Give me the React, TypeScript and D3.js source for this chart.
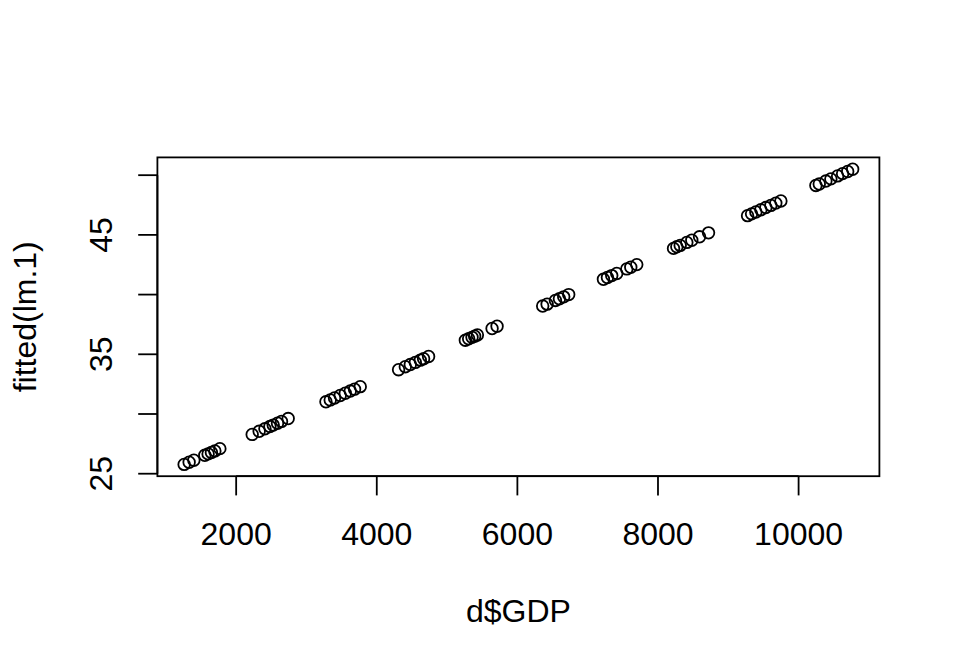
import React from "react";
import * as d3 from "d3";

const gdp: number[] = [
  1260, 1331, 1398, 1554, 1601, 1648, 1697, 1768,
  2228, 2327, 2409, 2480, 2527, 2588, 2645, 2740,
  3277, 3338, 3399, 3480, 3552, 3623, 3684, 3765,
  4310, 4406, 4477, 4548, 4619, 4666, 4737,
  5260, 5307, 5355, 5392, 5431, 5640, 5711,
  6360, 6423, 6541, 6598, 6659, 6730,
  7224, 7281, 7342, 7413, 7556, 7613, 7698,
  8221, 8268, 8316, 8410, 8481, 8591, 8719,
  9274, 9331, 9392, 9463, 9534, 9605, 9676, 9748,
  10246, 10294, 10388, 10459, 10555, 10626, 10698, 10769,
];

const fitted: number[] = [
  25.78, 25.96, 26.13, 26.54, 26.66, 26.78, 26.91, 27.1,
  28.29, 28.55, 28.76, 28.95, 29.07, 29.23, 29.38, 29.62,
  31.02, 31.18, 31.34, 31.55, 31.74, 31.92, 32.08, 32.29,
  33.71, 33.96, 34.14, 34.32, 34.51, 34.63, 34.82,
  36.18, 36.3, 36.42, 36.52, 36.62, 37.16, 37.35,
  39.04, 39.2, 39.51, 39.65, 39.81, 40.0,
  41.28, 41.43, 41.59, 41.77, 42.15, 42.29, 42.51,
  43.87, 44.0, 44.12, 44.37, 44.55, 44.84, 45.17,
  46.61, 46.76, 46.92, 47.1, 47.29, 47.47, 47.66, 47.84,
  49.14, 49.26, 49.51, 49.69, 49.94, 50.13, 50.31, 50.5,
];

const xTicks: number[] = [2000, 4000, 6000, 8000, 10000];
const yTicks: number[] = [25, 30, 35, 40, 45, 50];
const yTickLabels: string[] = ["25", "", "35", "", "45", ""];
const xTitle = "d$GDP";
const yTitle = "fitted(lm.1)";

const W = 960;
const H = 672;
const left = 157.4;
const right = 879.4;
const top = 157.4;
const bottom = 476.2;

export default function App() {
  const pad = (a: number, b: number): [number, number] => {
    const d = b - a;
    return [a - 0.04 * d, b + 0.04 * d];
  };
  const xs = d3.scaleLinear().domain(pad(d3.min(gdp)!, d3.max(gdp)!)).range([left, right]);
  const ys = d3.scaleLinear().domain(pad(d3.min(fitted)!, d3.max(fitted)!)).range([bottom, top]);
  const font = "'Liberation Sans', Arial, sans-serif";
  const sw = 1.8;
  const tick = 19.2;
  return (
    <svg width={W} height={H} style={{ position: "absolute", left: 0, top: 0, background: "#fff" }}>
      <rect x={0} y={0} width={W} height={H} fill="#fff" />
      <rect x={left} y={top} width={right - left} height={bottom - top} fill="none" stroke="#000" strokeWidth={sw} />
      {/* x axis */}
      <line x1={xs(xTicks[0])} x2={xs(xTicks[xTicks.length - 1])} y1={bottom} y2={bottom} stroke="#000" strokeWidth={sw} />
      {xTicks.map((t) => (
        <g key={t}>
          <line x1={xs(t)} x2={xs(t)} y1={bottom} y2={bottom + tick} stroke="#000" strokeWidth={sw} />
          <text x={xs(t)} y={545} textAnchor="middle" fontFamily={font} fontSize={32}>
            {String(t)}
          </text>
        </g>
      ))}
      {/* y axis */}
      <line x1={left} x2={left} y1={ys(yTicks[0])} y2={ys(yTicks[yTicks.length - 1])} stroke="#000" strokeWidth={sw} />
      {yTicks.map((t, i) => (
        <g key={t}>
          <line x1={left - tick} x2={left} y1={ys(t)} y2={ys(t)} stroke="#000" strokeWidth={sw} />
          {yTickLabels[i] ? (
            <text
              transform={`translate(${112},${ys(t)}) rotate(-90)`}
              textAnchor="middle"
              fontFamily={font}
              fontSize={32}
            >
              {yTickLabels[i]}
            </text>
          ) : null}
        </g>
      ))}
      {/* titles */}
      <text x={(left + right) / 2} y={622} textAnchor="middle" fontFamily={font} fontSize={32}>
        {xTitle}
      </text>
      <text
        transform={`translate(${36},${(top + bottom) / 2}) rotate(-90)`}
        textAnchor="middle"
        fontFamily={font}
        fontSize={32}
      >
        {yTitle}
      </text>
      {/* points */}
      {gdp.map((g, i) => (
        <circle key={i} cx={xs(g)} cy={ys(fitted[i])} r={5.8} fill="none" stroke="#000" strokeWidth={1.8} />
      ))}
    </svg>
  );
}
